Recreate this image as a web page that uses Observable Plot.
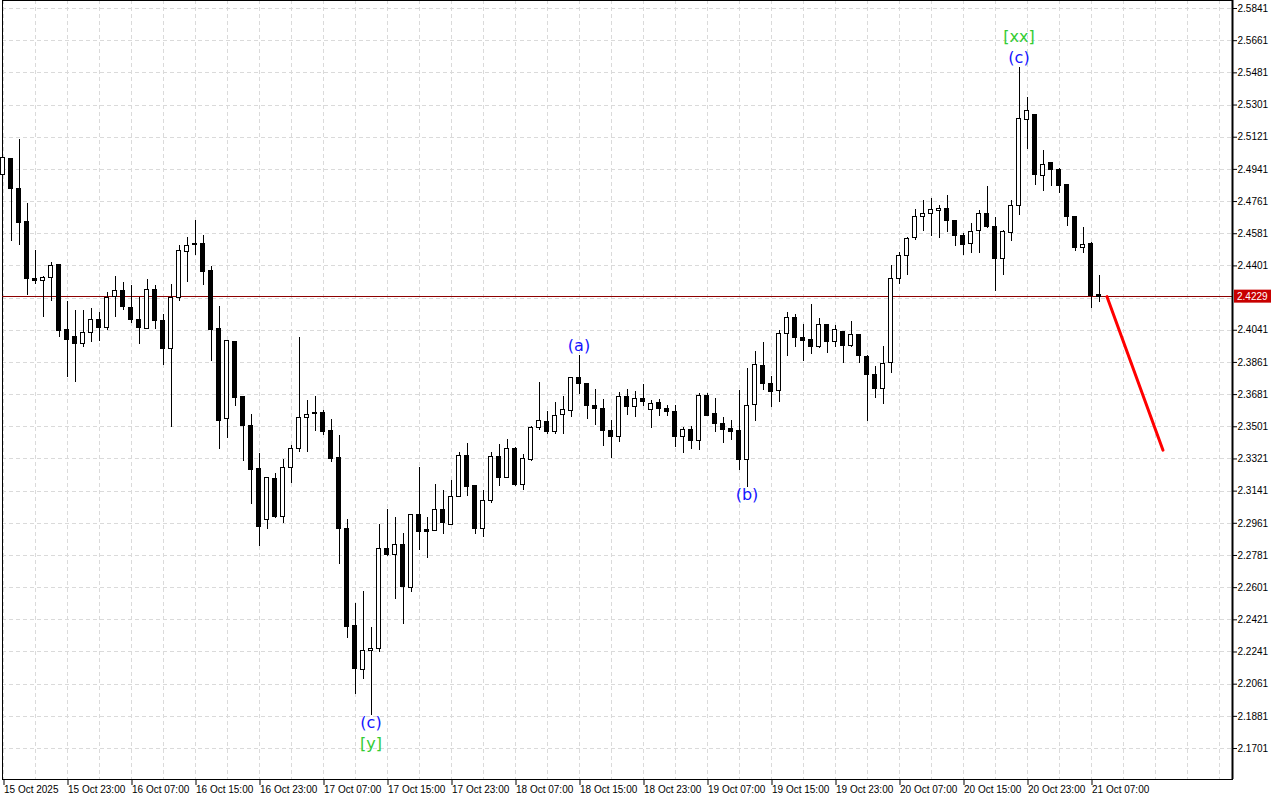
<!DOCTYPE html>
<html>
<head>
<meta charset="utf-8">
<script src="https://cdn.jsdelivr.net/npm/d3@7"></script>
<script src="https://cdn.jsdelivr.net/npm/@observablehq/plot@0.6"></script>
<style>
  html, body { margin: 0; padding: 0; background: #ffffff; }
  #chart { width: 1280px; height: 800px; overflow: hidden; }
</style>
</head>
<body>
<div id="chart"></div>
<script>
// Hourly candles, index 0 = 15 Oct 2025 15:00
const open = [2.4911,2.5000,2.4832,2.4644,2.4329,2.4318,2.4332,2.4405,2.4045,2.4006,
2.3965,2.4027,2.4101,2.4052,2.4228,2.4262,2.4168,2.4101,2.4049,2.4267,
2.4094,2.3935,2.4223,2.4480,2.4525,2.4525,2.4374,2.4049,2.3543,2.3976,
2.3665,2.3508,2.3262,2.2981,2.3210,2.2997,2.3272,2.3378,2.3551,2.3579,
2.3579,2.3475,2.3324,2.2930,2.2389,2.2141,2.2249,2.2257,2.2820,2.2785,
2.2837,2.2598,2.3010,2.2922,2.2919,2.3038,2.2954,2.3108,2.3335,2.3167,
2.2928,2.3087,2.3333,2.3216,2.3379,2.3174,2.3316,2.3495,2.3525,2.3471,
2.3568,2.3590,2.3775,2.3741,2.3618,2.3602,2.3478,2.3445,2.3669,2.3613,
2.3659,2.3596,2.3633,2.3602,2.3586,2.3445,2.3484,2.3423,2.3674,2.3570,
2.3519,2.3486,2.3475,2.3316,2.3624,2.3842,2.3743,2.3702,2.4019,2.4111,
2.4000,2.3989,2.3946,2.4071,2.3974,2.4032,2.3954,2.4017,2.3894,2.3793,
2.3713,2.3859,2.4329,2.4455,2.4556,2.4676,2.4690,2.4709,2.4720,2.4653,
2.4571,2.4522,2.4595,2.4694,2.4616,2.4438,2.4584,2.4737,2.5218,2.5248,
2.4905,2.4974,2.4940,2.4852,2.4677,2.4502,2.4521,2.4236];
const high = [2.5008,2.5001,2.5108,2.4748,2.4487,2.4343,2.4420,2.4409,2.4202,2.4152,
2.4151,2.4161,2.4140,2.4251,2.4343,2.4306,2.4291,2.4226,2.4325,2.4291,
2.4129,2.4297,2.4513,2.4560,2.4655,2.4569,2.4396,2.4174,2.3982,2.3980,
2.3670,2.3570,2.3351,2.3217,2.3240,2.3316,2.3395,2.4000,2.3648,2.3670,
2.3590,2.3542,2.3452,2.2982,2.2512,2.2578,2.2378,2.2953,2.3037,2.2993,
2.2904,2.3010,2.3273,2.2992,2.3178,2.3145,2.3200,2.3355,2.3406,2.3168,
2.3143,2.3357,2.3400,2.3430,2.3383,2.3344,2.3501,2.3750,2.3588,2.3637,
2.3669,2.3776,2.3900,2.3742,2.3710,2.3652,2.3536,2.3691,2.3708,2.3698,
2.3738,2.3646,2.3655,2.3618,2.3620,2.3499,2.3503,2.3685,2.3689,2.3658,
2.3551,2.3538,2.3704,2.3827,2.3920,2.3971,2.3782,2.4040,2.4139,2.4129,
2.4073,2.4183,2.4107,2.4072,2.4068,2.4034,2.4090,2.4018,2.3900,2.3837,
2.3948,2.4402,2.4474,2.4562,2.4717,2.4765,2.4776,2.4737,2.4795,2.4655,
2.4582,2.4640,2.4709,2.4845,2.4672,2.4599,2.4765,2.5511,2.5343,2.5249,
2.5047,2.4975,2.4946,2.4856,2.4679,2.4616,2.4532,2.4349];
const low = [2.4906,2.4539,2.4515,2.4234,2.4299,2.4114,2.4204,2.4002,2.3778,2.3747,
2.3945,2.3972,2.3978,2.4040,2.4114,2.4151,2.4077,2.3963,2.4045,2.4045,
2.3845,2.3499,2.4204,2.4310,2.4461,2.4291,2.3868,2.3374,2.3437,2.3616,
2.3308,2.3068,2.2833,2.2928,2.2990,2.2962,2.3185,2.3359,2.3359,2.3476,
2.3454,2.3303,2.2731,2.2315,2.2005,2.2085,2.1887,2.2240,2.2775,2.2536,
2.2397,2.2574,2.2809,2.2766,2.2917,2.2900,2.2951,2.3104,2.3113,2.2900,
2.2883,2.3070,2.3169,2.3214,2.3169,2.3143,2.3308,2.3480,2.3456,2.3459,
2.3459,2.3555,2.3683,2.3543,2.3510,2.3392,2.3322,2.3415,2.3566,2.3555,
2.3613,2.3493,2.3560,2.3557,2.3387,2.3353,2.3376,2.3368,2.3560,2.3467,
2.3406,2.3424,2.3258,2.3163,2.3528,2.3702,2.3611,2.3638,2.3896,2.3945,
2.3868,2.3907,2.3941,2.3913,2.3943,2.3857,2.3945,2.3853,2.3532,2.3659,
2.3627,2.3801,2.4299,2.4349,2.4545,2.4595,2.4567,2.4556,2.4590,2.4511,
2.4461,2.4469,2.4470,2.4610,2.4258,2.4347,2.4539,2.4683,2.5051,2.4851,
2.4817,2.4845,2.4806,2.4621,2.4484,2.4472,2.4164,2.4198];
const close = [2.5004,2.4830,2.4640,2.4327,2.4315,2.4336,2.4403,2.4036,2.3989,2.3963,
2.4028,2.4101,2.4052,2.4223,2.4262,2.4170,2.4097,2.4052,2.4267,2.4092,
2.3935,2.4223,2.4485,2.4513,2.4517,2.4366,2.4041,2.3536,2.3982,2.3661,
2.3504,2.3258,2.2939,2.3212,2.2995,2.3272,2.3376,2.3551,2.3568,2.3574,
2.3471,2.3318,2.2929,2.2380,2.2147,2.2249,2.2259,2.2818,2.2781,2.2842,
2.2604,2.3005,2.2911,2.2913,2.3038,2.2962,2.3109,2.3335,2.3163,2.2928,
2.3087,2.3333,2.3213,2.3378,2.3174,2.3318,2.3495,2.3531,2.3471,2.3562,
2.3596,2.3775,2.3741,2.3616,2.3599,2.3478,2.3443,2.3669,2.3613,2.3659,
2.3641,2.3630,2.3602,2.3585,2.3443,2.3484,2.3423,2.3674,2.3562,2.3515,
2.3484,2.3473,2.3316,2.3618,2.3844,2.3739,2.3694,2.4021,2.4111,2.3997,
2.3980,2.3948,2.4071,2.3974,2.4045,2.3954,2.4012,2.3896,2.3790,2.3711,
2.3853,2.4329,2.4458,2.4553,2.4677,2.4694,2.4711,2.4720,2.4653,2.4567,
2.4519,2.4592,2.4694,2.4616,2.4438,2.4588,2.4737,2.5224,2.5266,2.4908,
2.4967,2.4936,2.4847,2.4673,2.4500,2.4519,2.4231,2.4229];

const priceLabels = [2.5841,2.5661,2.5481,2.5301,2.5121,2.4941,2.4761,2.4581,2.4401,
  2.4041,2.3861,2.3681,2.3501,2.3321,2.3141,2.2961,2.2781,2.2601,2.2421,2.2241,2.2061,2.1881,2.1701];
const gridPrices = [2.5841,2.5661,2.5481,2.5301,2.5121,2.4941,2.4761,2.4581,2.4401,2.4221,
  2.4041,2.3861,2.3681,2.3501,2.3321,2.3141,2.2961,2.2781,2.2601,2.2421,2.2241,2.2061,2.1881,2.1701];
const timeTickLabels = ["15 Oct 2025","15 Oct 23:00","16 Oct 07:00","16 Oct 15:00","16 Oct 23:00",
  "17 Oct 07:00","17 Oct 15:00","17 Oct 23:00","18 Oct 07:00","18 Oct 15:00","18 Oct 23:00",
  "19 Oct 07:00","19 Oct 15:00","19 Oct 23:00","20 Oct 07:00","20 Oct 15:00","20 Oct 23:00","21 Oct 07:00"];
const timeTickHours = [0,8,16,24,32,40,48,56,64,72,80,88,96,104,112,120,128,136];
const gridHours = [0,4,8,12,16,20,24,28,32,36,40,44,48,52,56,60,64,68,72,76,80,84,88,92,96,100,
  104,108,112,116,120,124,128,132,136,140,144,148,152];

const currentPrice = 2.4229;
const forecastHours = [138, 145];
const forecastPrices = [2.4229, 2.3370];

const waveText  = ["(c)", "[y]", "(a)", "(b)", "(c)", "[xx]"];
const waveHour  = [46, 46, 72, 93, 127, 127];
const waveSide  = ["below", "below", "above", "below", "above", "above"];
const waveRow   = [0, 1, 0, 0, 0, 1];
const waveColor = ["#1414ff", "#33cc33", "#1414ff", "#1414ff", "#1414ff", "#33cc33"];

const xDomain = [-0.0625, 153.6875];
const priceRange = [2.15277, 2.58858];

const candles = open.map((o, k) => ({t: k, o, h: high[k], l: low[k], c: close[k]}));
const forecast = forecastHours.map((t, k) => ({t, p: forecastPrices[k]}));
const waves = waveText.map((text, k) => ({
  text, t: waveHour[k], side: waveSide[k], row: waveRow[k], color: waveColor[k],
  p: waveSide[k] === "below" ? low[waveHour[k]] : high[waveHour[k]]
}));
const tickLabelByHour = new Map(timeTickHours.map((h, k) => [h, timeTickLabels[k]]));

const axisFont = "'Liberation Sans', Arial, sans-serif";
const waveFont = "'DejaVu Sans', sans-serif";
const gridStyle = {stroke: "#dadada", strokeDasharray: "4,3", shapeRendering: "crispEdges"};

const waveMark = (side, row, anchor, dy) => Plot.text(
  waves.filter(d => d.side === side && d.row === row),
  {x: "t", y: "p", text: "text", fill: "color", lineAnchor: anchor, dy,
   fontFamily: waveFont, fontSize: 16}
);

const plot = Plot.plot({
  width: 1280,
  height: 800,
  marginLeft: 2,
  marginRight: 48,
  marginTop: 0,
  marginBottom: 21,
  x: {type: "linear", domain: xDomain},
  y: {type: "linear", domain: priceRange},
  color: {type: "identity"},
  style: {fontFamily: axisFont, fontSize: "10px", background: "#ffffff", color: "#000000", overflow: "visible"},
  marks: [
    Plot.ruleX(gridHours, gridStyle),
    Plot.ruleY(gridPrices, gridStyle),
    Plot.frame({stroke: "#000000"}),
    Plot.ruleY([currentPrice], {stroke: "#8c0000", strokeWidth: 1, shapeRendering: "crispEdges"}),
    Plot.ruleX(candles, {x: "t", y1: "l", y2: "h", stroke: "#000000", shapeRendering: "crispEdges"}),
    Plot.rect(candles, {
      x1: d => d.t - 0.25, x2: d => d.t + 0.25, y1: "o", y2: "c",
      fill: d => d.c >= d.o ? "#ffffff" : "#000000",
      stroke: "#000000", strokeWidth: 1, shapeRendering: "crispEdges"
    }),
    Plot.line(forecast, {x: "t", y: "p", stroke: "#ff0000", strokeWidth: 3}),
    waveMark("below", 0, "top", 1),
    waveMark("below", 1, "top", 22),
    waveMark("above", 0, "bottom", -4),
    waveMark("above", 1, "bottom", -25),
    Plot.axisY(priceLabels, {
      anchor: "right", tickSize: 4, tickPadding: 1, label: null,
      tickFormat: d => d.toFixed(4), fontSize: 10, fontFamily: axisFont, fill: "#000000"
    }),
    Plot.axisX(timeTickHours, {
      anchor: "bottom", tickSize: 6, tickPadding: 0, label: null, textAnchor: "start", dx: 1,
      tickFormat: d => tickLabelByHour.get(d), fontSize: 10, fontFamily: axisFont, fill: "#000000"
    }),
    Plot.ruleX([xDomain[1]], {stroke: "#000000", strokeWidth: 2})
  ]
});

document.getElementById("chart").appendChild(plot);

// Current-price badge on the price axis, positioned through the plot's scales
(function () {
  let yPix, xPix;
  const ys = plot.scale("y"), xs = plot.scale("x");
  if (ys && typeof ys.apply === "function") { yPix = ys.apply(currentPrice); xPix = xs.apply(xDomain[1]); }
  else {
    yPix = d3.scaleLinear(ys.domain, ys.range)(currentPrice);
    xPix = d3.scaleLinear(xs.domain, xs.range)(xDomain[1]);
  }
  const g = d3.select(plot).append("g");
  g.append("rect").attr("x", xPix + 2).attr("y", yPix - 6.5).attr("width", 37).attr("height", 13)
    .attr("fill", "#c80000");
  g.append("text").attr("x", xPix + 5).attr("y", yPix).attr("dy", "0.35em")
    .attr("text-anchor", "start")
    .attr("fill", "#ffffff").attr("font-family", axisFont).attr("font-size", 10)
    .text(currentPrice.toFixed(4));
})();
</script>
</body>
</html>
